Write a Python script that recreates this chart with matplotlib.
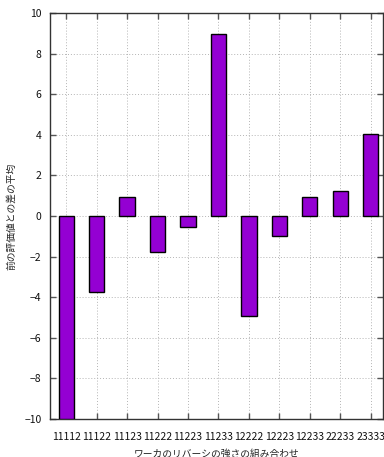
import numpy as np
import matplotlib
matplotlib.use("Agg")
import matplotlib.pyplot as plt

plt.rcParams['font.family'] = ['Noto Sans CJK JP', 'DejaVu Sans']

# 組み合わせごとの差の平均
combos = ["11112", "11122", "11123", "11222", "11223", "11233",
          "12222", "12223", "12233", "22233", "23333"]
diffs = [-10.0, -3.75, 0.95, -1.75, -0.55, 8.97,
         -4.95, -0.97, 0.95, 1.25, 4.02]

fig = plt.figure(figsize=(3.84, 4.57), dpi=100)
ax = fig.add_axes([50/384, 38/457, 333/384, 406/457])

x = np.arange(len(combos))
ax.bar(x, diffs, width=0.5, color="#9400d3", edgecolor="black", linewidth=1, zorder=3)

ax.set_xlim(-0.53, 10.4)
ax.set_ylim(-10, 10)
ax.set_yticks(np.arange(-10, 11, 2))
ax.set_xticks(x)
ax.set_xticklabels(combos)

ax.grid(True, color="#b4b4b4", linestyle=(0, (1, 2)), linewidth=0.7, zorder=0)
ax.tick_params(direction="in", top=True, right=True, labelsize=7.5, length=4,
               width=1, colors="#555555", labelcolor="#111111")
ax.tick_params(axis="x", pad=9)
ax.tick_params(axis="y", pad=6)
for s in ax.spines.values():
    s.set_color("#333333")
    s.set_linewidth(1)

ax.set_xlabel("ワーカのリバーシの強さの組み合わせ", fontsize=7, labelpad=5, color="#222222")
ax.set_ylabel("前の評価値との差の平均", fontsize=7, labelpad=6, color="#222222")

fig.savefig("out.png", dpi=100)
